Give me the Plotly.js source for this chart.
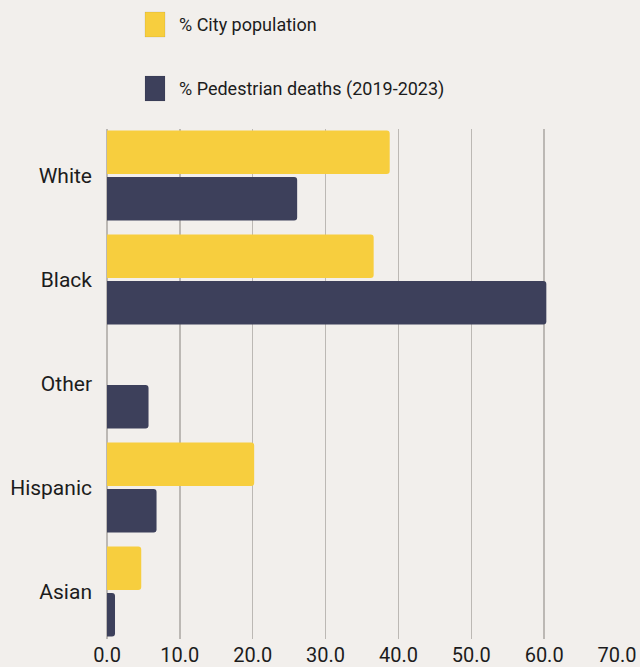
<!DOCTYPE html>
<html>
<head>
<meta charset="utf-8">
<script src="https://cdn.plot.ly/plotly-3.0.1.min.js"></script>
<style>html,body{margin:0;padding:0;background:#f2efec;}#chart{width:640px;height:667px;}</style>
</head>
<body>
<div id="chart"></div>
<script>
const categories = ["White", "Black", "Other", "Hispanic", "Asian"];
const cityPopulation = [38.8, 36.6, 0, 20.2, 4.7];
const pedestrianDeaths = [26.1, 60.3, 5.7, 6.8, 1.1];
const seriesNames = ["% City population", "% Pedestrian deaths (2019-2023)"];
const seriesColors = ["#f7ce3e", "#3d405b"];
const tickValues = [0, 10, 20, 30, 40, 50, 60, 70];
const tickLabels = ["0.0", "10.0", "20.0", "30.0", "40.0", "50.0", "60.0", "70.0"];

const font = "Roboto, 'Open Sans', sans-serif";
const W = 640, H = 667, L = 107, R = 23, T = 129, B = 28;
const pw = W - L - R, ph = H - T - B;
const px = v => (v - L) / pw;
const py = v => (H - B - v) / ph;

const traces = [
  {type: "bar", orientation: "h", y: categories, x: cityPopulation, name: seriesNames[0],
   marker: {color: seriesColors[0]}, showlegend: false},
  {type: "bar", orientation: "h", y: categories, x: pedestrianDeaths, name: seriesNames[1],
   marker: {color: seriesColors[1]}, showlegend: false}
];
const legendY = [24.5, 88.5];
const shapes = seriesNames.map((n, i) => ({
  type: "rect", xref: "paper", yref: "paper",
  x0: px(145), x1: px(165), y0: py(legendY[i] - 12.5), y1: py(legendY[i] + 12.5),
  fillcolor: seriesColors[i], line: {width: 0.5, color: "rgba(0,0,0,0.15)"}, layer: "above"
}));
const annotations = seriesNames.map((n, i) => ({
  text: n, xref: "paper", yref: "paper", x: px(177), y: py(legendY[i]),
  xanchor: "left", yanchor: "middle", showarrow: false,
  font: {size: 18, family: font, color: "#1c1c1c"}
}));
const layout = {
  width: W, height: H,
  paper_bgcolor: "#f2efec", plot_bgcolor: "#f2efec",
  font: {family: font, color: "#1c1c1c", size: 20},
  margin: {l: L, r: R, t: T, b: B},
  barmode: "group", bargap: 0.106, bargroupgap: 0.065, barcornerradius: 3,
  xaxis: {range: [0, 70], tickvals: tickValues, ticktext: tickLabels, tickangle: 0,
          automargin: false,
          showgrid: true, gridcolor: "#bcb8b4", gridwidth: 1.5,
          zeroline: true, zerolinecolor: "#bcb8b4", zerolinewidth: 1.5,
          showline: false, ticks: "", fixedrange: true, ticklabelstandoff: 2,
          tickfont: {size: 20, family: font, color: "#1c1c1c"}},
  yaxis: {range: [4.457, -0.447], automargin: false, showgrid: false, zeroline: false, showline: false,
          ticks: "", ticklabelstandoff: 14,
          tickfont: {size: 21, family: font, color: "#1c1c1c"}},
  showlegend: false,
  shapes: shapes,
  annotations: annotations
};
Plotly.newPlot("chart", traces, layout, {displayModeBar: false, staticPlot: true});
</script>
</body>
</html>
